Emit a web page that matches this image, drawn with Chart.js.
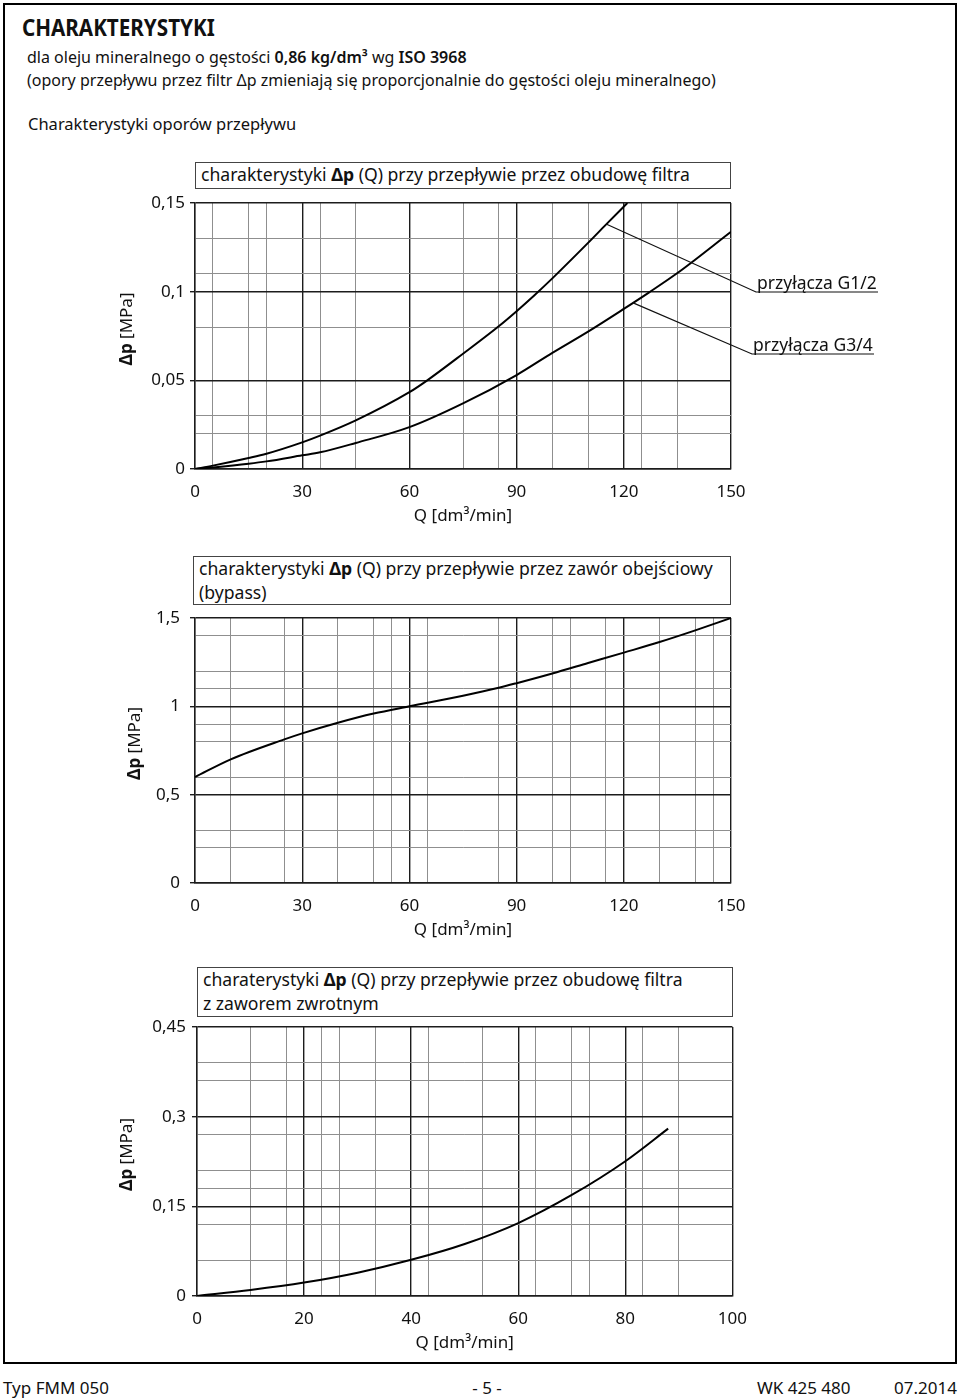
<!DOCTYPE html>
<html lang="pl">
<head>
<meta charset="UTF-8">
<title>Charakterystyki FMM 050</title>
<script src="https://cdn.jsdelivr.net/npm/chart.js"></script>
<style>
  body {
    margin: 0;
    width: 960px;
    height: 1400px;
    position: relative;
    background: #fff;
    color: #111;
    font-family: 'Noto Sans', sans-serif;
  }
  .abs { position: absolute; white-space: nowrap; }
  .frame { left: 3px; top: 3px; width: 950px; height: 1357px; border: 2px solid #000; }
  .head { left: 22px; top: 12px; font-size: 24px; font-weight: 700; line-height: 30px;
          transform: scaleX(0.86); transform-origin: left center; }
  .txt { font-size: 16px; line-height: 22px; }
  .txt b { font-weight: 600; }
  .box { border: 1.5px solid #444; box-sizing: border-box; font-size: 17.6px; line-height: 23.5px;
         padding: 0 5px; background: #fff; }
  .box b { font-weight: 700; }
  .foot { font-size: 17px; line-height: 22px; top: 1377px; }
  canvas { position: absolute; }
</style>
</head>
<body>
  <div class="abs frame"></div>
  <div class="abs head">CHARAKTERYSTYKI</div>
  <div class="abs txt" style="left:27px; top:46px;">dla oleju mineralnego o gęstości <b>0,86 kg/dm³</b> wg <b>ISO 3968</b></div>
  <div class="abs txt" style="left:27px; top:69px;">(opory przepływu przez filtr Δp zmieniają się proporcjonalnie do gęstości oleju mineralnego)</div>
  <div class="abs txt" style="left:28px; top:113px; font-size:16.5px;">Charakterystyki oporów przepływu</div>

  <canvas id="c1" width="800" height="360" style="left:100px; top:180px;"></canvas>
  <canvas id="c2" width="660" height="359" style="left:100px; top:595px;"></canvas>
  <canvas id="c3" width="660" height="363" style="left:100px; top:1004px;"></canvas>

  <div class="abs box" style="left:195px; top:162px; width:536px; height:27px;">charakterystyki <b>Δp</b> (Q) przy przepływie przez obudowę filtra</div>
  <div class="abs box" style="left:193px; top:556px; width:538px; height:49px;">charakterystyki <b>Δp</b> (Q) przy przepływie przez zawór obejściowy<br>(bypass)</div>
  <div class="abs box" style="left:197px; top:967px; width:536px; height:50px;">charaterystyki <b>Δp</b> (Q) przy przepływie przez obudowę filtra<br>z zaworem zwrotnym</div>

  <div class="abs foot" style="left:3px;">Typ FMM 050</div>
  <div class="abs foot" style="left:487px; transform:translateX(-50%);">- 5 -</div>
  <div class="abs foot" style="left:757px;">WK 425 480</div>
  <div class="abs foot" style="right:3px;">07.2014</div>

<script>
// wykres 1: obudowa filtra, przyłącza G1/2 i G3/4
const qG12  = [0, 5, 15, 20, 30, 35, 45, 60, 65, 75, 85, 90, 95, 100, 110, 115, 121];
const dpG12 = [0, 0.0019, 0.0062, 0.0086, 0.015, 0.0188, 0.0274, 0.0433, 0.050, 0.065, 0.0805, 0.089, 0.098, 0.1075, 0.1275, 0.1378, 0.150];
const qG34  = [0, 5, 15, 20, 30, 35, 45, 60, 75, 90, 100, 110, 120, 127, 135, 150];
const dpG34 = [0, 0.0009, 0.003, 0.0043, 0.0077, 0.0094, 0.0147, 0.0236, 0.037, 0.053, 0.0655, 0.0775, 0.0903, 0.0995, 0.1105, 0.1338];
const x1Major = [0, 30, 60, 90, 120, 150];
const x1Labels = ['0', '30', '60', '90', '120', '150'];
const x1Minor = [5, 15, 20, 35, 45, 75, 85, 100, 110, 125, 135];
const y1Major = [0, 0.05, 0.1, 0.15];
const y1Labels = ['0', '0,05', '0,1', '0,15'];
const y1Minor = [0.02, 0.03, 0.08, 0.11, 0.13];

// wykres 2: zawór obejściowy (bypass)
const qBypass  = [0, 10, 25, 30, 40, 50, 60, 75, 85, 90, 100, 110, 120, 130, 140, 150];
const dpBypass = [0.60, 0.70, 0.813, 0.847, 0.907, 0.959, 1.0, 1.06, 1.105, 1.131, 1.186, 1.245, 1.304, 1.364, 1.43, 1.5];
const x2Major = [0, 30, 60, 90, 120, 150];
const x2Labels = ['0', '30', '60', '90', '120', '150'];
const x2Minor = [10, 25, 40, 50, 55, 65, 85, 100, 105, 115, 130, 140, 145];
const y2Major = [0, 0.5, 1, 1.5];
const y2Labels = ['0', '0,5', '1', '1,5'];
const y2Minor = [0.2, 0.3, 0.6, 0.8, 0.9, 1.1, 1.2, 1.4];

// wykres 3: obudowa filtra z zaworem zwrotnym
const qCheck  = [0, 10, 20, 30, 40, 50, 60, 70, 80, 88];
const dpCheck = [0, 0.010, 0.0224, 0.039, 0.0605, 0.087, 0.122, 0.169, 0.2255, 0.280];
const x3Major = [0, 20, 40, 60, 80, 100];
const x3Labels = ['0', '20', '40', '60', '80', '100'];
const x3Minor = [10, 16.7, 23.3, 26.7, 33.3, 43.3, 53.3, 63.3, 70, 73.3, 83.3, 90];
const y3Major = [0, 0.15, 0.3, 0.45];
const y3Labels = ['0', '0,15', '0,3', '0,45'];
const y3Minor = [0.06, 0.12, 0.18, 0.21, 0.27, 0.36, 0.39];

const DARK = '#1c1c1c';
const GREY = '#8f8f8f';
const FONT = 'Noto Sans';

const near = (a, b) => Math.abs(a - b) < 1e-6;
const isIn = (v, list) => list.some(m => near(m, v));
const labelOf = (v, values, labels) => {
  const i = values.findIndex(m => near(m, v));
  return i < 0 ? '' : labels[i];
};
const pts = (qs, dps) => qs.map((q, i) => ({ x: q, y: dps[i] }));

// oś Δp [MPa] – "Δp" pogrubione
const yTitlePlugin = {
  id: 'yTitle',
  afterDraw(chart, args, o) {
    const { ctx, chartArea: a } = chart;
    ctx.save();
    ctx.translate(o.x, (a.top + a.bottom) / 2 - 7);
    ctx.rotate(-Math.PI / 2);
    ctx.textBaseline = 'middle';
    ctx.fillStyle = '#111';
    ctx.font = `bold 17px "${FONT}"`;
    const w1 = ctx.measureText('Δp').width;
    ctx.font = `17px "${FONT}"`;
    const w2 = ctx.measureText(' [MPa]').width;
    const x0 = -(w1 + w2) / 2;
    ctx.font = `bold 17px "${FONT}"`;
    ctx.fillText('Δp', x0, 0);
    ctx.font = `17px "${FONT}"`;
    ctx.fillText(' [MPa]', x0 + w1, 0);
    ctx.restore();
  }
};

// linie odniesienia z opisami przyłączy
const leaderPlugin = {
  id: 'leaders',
  afterDraw(chart, args, o) {
    if (!o.items) return;
    const { ctx, scales: { x, y } } = chart;
    ctx.save();
    ctx.strokeStyle = '#111';
    ctx.lineWidth = 1.2;
    ctx.fillStyle = '#111';
    ctx.font = `17.5px "${FONT}"`;
    ctx.textBaseline = 'alphabetic';
    o.items.forEach(it => {
      ctx.beginPath();
      ctx.moveTo(x.getPixelForValue(it.q), y.getPixelForValue(it.dp));
      ctx.lineTo(it.x1, it.y1);
      ctx.lineTo(it.x2, it.y1);
      ctx.stroke();
      ctx.fillText(it.text, it.x1 + 1, it.y1 - 3);
    });
    ctx.restore();
  }
};

function makeChart(id, c) {
  const xTicks = c.xMajor.concat(c.xMinor).sort((a, b) => a - b);
  const yTicks = c.yMajor.concat(c.yMinor).sort((a, b) => a - b);
  const xMajorTick = ctx => ctx.tick && isIn(ctx.tick.value, c.xMajor);
  const yMajorTick = ctx => ctx.tick && isIn(ctx.tick.value, c.yMajor);

  new Chart(document.getElementById(id), {
    type: 'line',
    data: {
      datasets: c.series.map(s => ({
        data: pts(s.q, s.dp),
        borderColor: '#000',
        borderWidth: 2,
        pointRadius: 0,
        fill: false,
        cubicInterpolationMode: 'monotone'
      }))
    },
    options: {
      responsive: false,
      animation: false,
      events: [],
      layout: { padding: { left: 0, right: c.padRight, top: 23, bottom: 0 } },
      plugins: {
        legend: { display: false },
        tooltip: { enabled: false },
        yTitle: { x: c.yTitleX },
        leaders: { items: c.leaders }
      },
      scales: {
        x: {
          type: 'linear',
          min: 0,
          max: c.xMax,
          afterBuildTicks: s => { s.ticks = xTicks.map(v => ({ value: v })); },
          afterFit: s => { s.height = 71; },
          ticks: {
            autoSkip: false,
            maxRotation: 0,
            padding: 13,
            color: '#111',
            font: { family: FONT, size: 17 },
            callback: v => labelOf(v, c.xMajor, c.xLabels)
          },
          grid: {
            drawTicks: false,
            color: ctx => xMajorTick(ctx) ? DARK : GREY,
            lineWidth: ctx => xMajorTick(ctx) ? 1.4 : 1
          },
          border: { display: true, color: DARK, width: 1.4 },
          title: {
            display: true,
            text: 'Q [dm³/min]',
            color: '#111',
            font: { family: FONT, size: 17 },
            padding: { top: 0, bottom: 14 }
          }
        },
        y: {
          type: 'linear',
          min: 0,
          max: c.yMax,
          afterBuildTicks: s => { s.ticks = yTicks.map(v => ({ value: v })); },
          afterFit: s => { s.width = c.yWidth; },
          ticks: {
            autoSkip: false,
            padding: c.yPad,
            color: '#111',
            font: { family: FONT, size: 17 },
            callback: v => labelOf(v, c.yMajor, c.yLabels)
          },
          grid: {
            drawTicks: true,
            tickLength: 5,
            tickColor: ctx => yMajorTick(ctx) ? DARK : 'rgba(0,0,0,0)',
            color: ctx => yMajorTick(ctx) ? DARK : GREY,
            lineWidth: ctx => yMajorTick(ctx) ? 1.4 : 1
          },
          border: { display: true, color: DARK, width: 1.4 }
        }
      }
    },
    plugins: [yTitlePlugin, leaderPlugin]
  });
}

makeChart('c1', {
  xMax: 150, xMajor: x1Major, xMinor: x1Minor, xLabels: x1Labels,
  yMax: 0.15, yMajor: y1Major, yMinor: y1Minor, yLabels: y1Labels,
  series: [{ q: qG12, dp: dpG12 }, { q: qG34, dp: dpG34 }],
  padRight: 169, yWidth: 95, yPad: 5, yTitleX: 27,
  leaders: [
    { text: 'przyłącza G1/2', q: 115.2, dp: 0.138, x1: 656, y1: 112, x2: 778 },
    { text: 'przyłącza G3/4', q: 122.6, dp: 0.0937, x1: 652, y1: 174, x2: 774 }
  ]
});

makeChart('c2', {
  xMax: 150, xMajor: x2Major, xMinor: x2Minor, xLabels: x2Labels,
  yMax: 1.5, yMajor: y2Major, yMinor: y2Minor, yLabels: y2Labels,
  series: [{ q: qBypass, dp: dpBypass }],
  padRight: 29, yWidth: 95, yPad: 10, yTitleX: 35
});

makeChart('c3', {
  xMax: 100, xMajor: x3Major, xMinor: x3Minor, xLabels: x3Labels,
  yMax: 0.45, yMajor: y3Major, yMinor: y3Minor, yLabels: y3Labels,
  series: [{ q: qCheck, dp: dpCheck }],
  padRight: 27, yWidth: 97, yPad: 6, yTitleX: 27
});
</script>
</body>
</html>
